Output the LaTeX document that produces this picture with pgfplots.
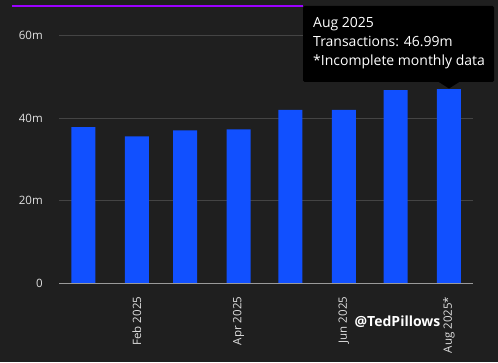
\documentclass[border=0pt]{standalone}
\usepackage{fontspec}
\setmainfont{Open Sans}
\usepackage{pgfplots}
\pgfplotsset{compat=1.18}
\definecolor{bg}{HTML}{1F1F1F}
\definecolor{barblue}{HTML}{1150FF}
\definecolor{gridc}{HTML}{444444}
\definecolor{axisc}{HTML}{9A9A9A}
\definecolor{tickc}{HTML}{E0E0E0}
\definecolor{purp}{HTML}{9B00FF}
\begin{document}
\begin{tikzpicture}[x=1pt,y=1pt]
\fill[bg] (0,0) rectangle (498,362);
\useasboundingbox (0,0) rectangle (498,362);
\draw[purp, line width=1.2pt] (12,356) -- (303,356);
\begin{axis}[
  at={(59.3pt,78.7pt)}, anchor=south west,
  scale only axis, width=414pt, height=247.8pt,
  xmin=-14, xmax=226.1, ymin=0, ymax=60,
  axis line style={draw=none},
  major tick length=0pt,
  ytick={0,20,40,60},
  yticklabels={0,20m,40m,60m},
  yticklabel style={font=\fontsize{11.5}{13}\selectfont, text=tickc, xshift=-13pt},
  ymajorgrids,
  grid style={gridc, line width=0.7pt},
  xtick={31,90,151,212},
  xticklabels={Feb 2025,Apr 2025,Jun 2025,Aug 2025*},
  xticklabel style={rotate=90, anchor=east, font=\fontsize{11.5}{13}\selectfont, text=tickc, xshift=-10pt},
  clip=false,
]
\addplot[ybar, bar width=24pt, fill=barblue, draw=none]
  coordinates {(0,37.8)(31,35.6)(59,37.0)(90,37.3)(120,42.0)(151,42.0)(181,46.8)(212,46.99)};
\draw[axisc, line width=0.8pt] (axis cs:-14,0) -- (axis cs:226.1,0);
\end{axis}
\fill[black, rounded corners=1.5pt] (303,356) rectangle (494,280);
\fill[black] (438,280.5) -- (460,280.5) -- (449,273.5) -- cycle;
\node[anchor=base west, text=white, font=\fontsize{14}{16}\selectfont, inner sep=0] at (313,334) {Aug 2025};
\node[anchor=base west, text=white, font=\fontsize{14}{16}\selectfont, inner sep=0] at (313,315) {Transactions: 46.99m};
\node[anchor=base west, text=white, font=\fontsize{14}{16}\selectfont, inner sep=0] at (313,296) {*Incomplete monthly data};
\node[text=white, font=\bfseries\fontsize{14}{16}\selectfont, inner sep=0] at (397.5,40) {@TedPillows};
\end{tikzpicture}
\end{document}
